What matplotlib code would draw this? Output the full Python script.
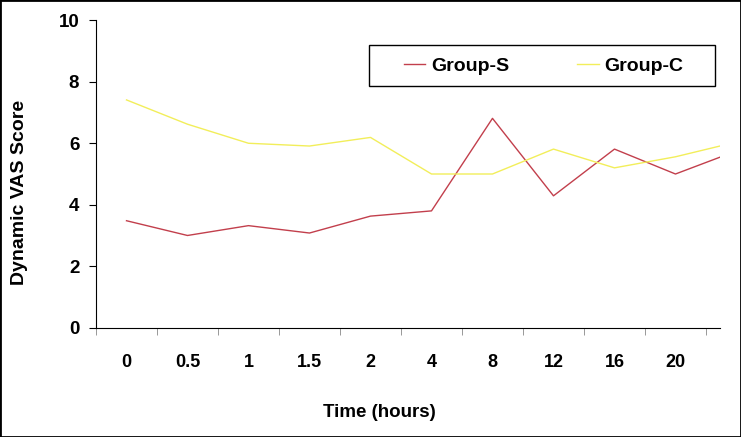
import numpy as np
import matplotlib
matplotlib.use('Agg')
import matplotlib.pyplot as plt
from matplotlib.patches import Rectangle

# values (last column is 24 h, cut off at the axis edge)
times = ['0', '0.5', '1', '1.5', '2', '4', '8', '12', '16', '20', '24']
group_s = [3.48, 3.0, 3.32, 3.08, 3.63, 3.8, 6.81, 4.29, 5.81, 5.0, 5.75]
group_c = [7.41, 6.62, 6.0, 5.91, 6.19, 5.0, 5.0, 5.81, 5.2, 5.56, 6.04]

plt.rcParams['font.family'] = ['Liberation Sans', 'DejaVu Sans']
plt.rcParams['font.weight'] = 'bold'

W, H = 741, 437
fig = plt.figure(figsize=(W/100, H/100), dpi=100)
ax = fig.add_axes([96/W, (H-327.7)/H, (720-96)/W, (327.7-20.3)/H])

xs = np.arange(len(times))
ax.plot(xs, group_s, color='#c23f4c', lw=1.0, label='Group-S')
ax.plot(xs, group_c, color='#f2ee5a', lw=1.0, label='Group-C')

ax.set_ylim(0, 10)
ax.set_yticks(range(0, 11, 2))
ax.set_xlim(-0.5, 9.73)

# labels at category centres, tick marks at boundaries
ax.set_xticks(xs[:10])
ax.set_xticklabels(times[:10])
ax.set_xticks(np.arange(-0.5, 10, 1), minor=True)
ax.tick_params(axis='x', which='major', length=0, pad=19, labelsize=13)
ax.tick_params(axis='x', which='minor', length=5, direction='out', color='#888888')
ax.tick_params(axis='y', length=5, direction='out', labelsize=13.5, pad=7)

for s in ['top', 'right']:
    ax.spines[s].set_visible(False)

# axis-pixel helpers for text placement
px = lambda x: (x - 96) / 624
py = lambda y: (327.7 - y) / 307.4

ax.set_xlabel('Time (hours)', fontsize=13.5, fontweight='bold')
ax.xaxis.set_label_coords(px(379), py(404))
ax.set_ylabel('Dynamic VAS Score', fontsize=14, fontweight='bold')
ax.yaxis.set_label_coords(px(28), py(192))

leg = ax.legend(loc='center left', bbox_to_anchor=(px(404), py(66)),
                borderaxespad=0, borderpad=0, ncol=2, frameon=False,
                fontsize=14, handlelength=1.1, columnspacing=3.5,
                handletextpad=0.3)
# legend box
ax.add_patch(Rectangle((px(369), py(86)), px(715) - px(369), py(45) - py(86),
                       transform=ax.transAxes, fill=False, edgecolor='black',
                       lw=1.0, clip_on=False))

# outer border of the picture
fig.patches.append(Rectangle((0, 0), 1, 1, transform=fig.transFigure,
                             fill=False, edgecolor='black', lw=2))

fig.savefig('out.png', dpi=100)
